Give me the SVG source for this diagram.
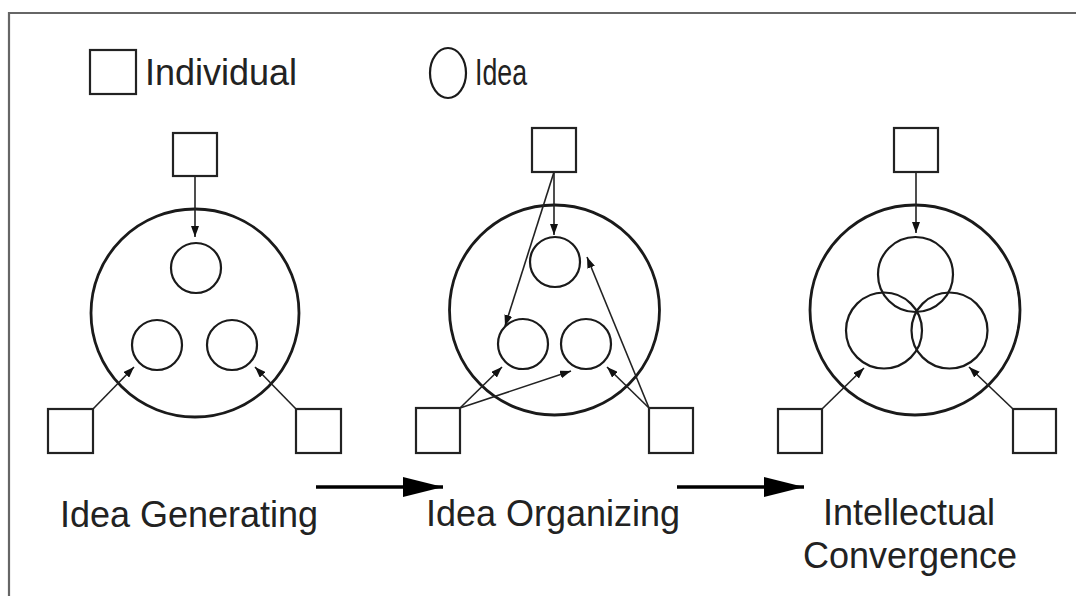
<svg xmlns="http://www.w3.org/2000/svg" width="1076" height="596" viewBox="0 0 1076 596">
<style>
.sq{fill:#fff;stroke:#222;stroke-width:2.2}
.big{fill:none;stroke:#1a1a1a;stroke-width:2.8}
.sm{fill:none;stroke:#1a1a1a;stroke-width:2.2}
.cn{stroke:#222;stroke-width:1.6;fill:none;marker-end:url(#ah)}
.flow{stroke:#000;stroke-width:3.5;fill:none;marker-end:url(#bh)}
.lbl{font-family:"Liberation Sans",Arial,sans-serif;font-size:36px;fill:#222}
</style>
<defs>
<marker id="ah" markerUnits="userSpaceOnUse" markerWidth="11" markerHeight="8" refX="11" refY="4" orient="auto">
<path d="M0,0 L11,4 L0,8 z" fill="#111"/>
</marker>
<marker id="bh" markerUnits="userSpaceOnUse" markerWidth="40" markerHeight="20" refX="40" refY="10" orient="auto">
<path d="M0,0 L40,10 L0,20 z" fill="#000"/>
</marker>
</defs>
<rect width="1076" height="596" fill="#fff"/>
<path d="M9,596 L9,13 L1076,13" fill="none" stroke="#666" stroke-width="2.2"/>

<g id="legend">
<rect class="sq" x="90" y="50" width="46" height="44"/>
<text class="lbl" x="145" y="85">Individual</text>
<ellipse class="sm" cx="448" cy="73" rx="18" ry="25"/>
<text class="lbl" x="475" y="85" textLength="52" lengthAdjust="spacingAndGlyphs">Idea</text>
</g>

<g id="panel-generating">
<circle class="big" cx="195" cy="313" r="104"/>
<circle class="sm" cx="196" cy="268" r="25"/>
<circle class="sm" cx="157" cy="345" r="25"/>
<circle class="sm" cx="232" cy="345" r="25"/>
<rect class="sq" x="173" y="133" width="44" height="43"/>
<rect class="sq" x="48" y="409" width="45" height="44"/>
<rect class="sq" x="296" y="409" width="45" height="44"/>
<text class="lbl" x="189" y="527" text-anchor="middle">Idea Generating</text>
</g>

<g id="panel-organizing">
<circle class="big" cx="554.5" cy="310" r="105"/>
<circle class="sm" cx="555" cy="262" r="25"/>
<circle class="sm" cx="523" cy="344" r="25"/>
<circle class="sm" cx="586" cy="344" r="25"/>
<rect class="sq" x="532" y="128" width="44" height="44"/>
<rect class="sq" x="416" y="408" width="44" height="45"/>
<rect class="sq" x="649" y="408" width="44" height="45"/>
<text class="lbl" x="553" y="526" text-anchor="middle">Idea Organizing</text>
</g>

<g id="panel-convergence">
<circle class="big" cx="915" cy="310" r="105"/>
<circle class="sm" cx="915.5" cy="274.5" r="37.5"/>
<circle class="sm" cx="884" cy="330.5" r="38"/>
<circle class="sm" cx="949.5" cy="330.5" r="38"/>
<rect class="sq" x="894" y="128" width="44" height="44"/>
<rect class="sq" x="778" y="409" width="44" height="44"/>
<rect class="sq" x="1013" y="409" width="43" height="44"/>
<text class="lbl" x="909" y="525" text-anchor="middle">Intellectual</text>
<text class="lbl" x="910" y="568" text-anchor="middle">Convergence</text>
</g>

<g id="connectors">
<line class="cn" x1="195" y1="176" x2="195" y2="237"/>
<line class="cn" x1="93" y1="409" x2="134" y2="367"/>
<line class="cn" x1="296" y1="409" x2="255" y2="367"/>

<line class="cn" x1="554" y1="172" x2="554" y2="235"/>
<line class="cn" x1="554" y1="172" x2="505" y2="326"/>
<line class="cn" x1="460" y1="408" x2="502" y2="367"/>
<line class="cn" x1="460" y1="408" x2="571" y2="371"/>
<line class="cn" x1="649" y1="408" x2="607" y2="367"/>
<line class="cn" x1="649" y1="408" x2="587" y2="257"/>

<line class="cn" x1="916" y1="172" x2="916" y2="233"/>
<line class="cn" x1="822" y1="409" x2="864" y2="368"/>
<line class="cn" x1="1013" y1="409" x2="969" y2="367"/>

<line class="flow" x1="316" y1="487" x2="443" y2="487"/>
<line class="flow" x1="677" y1="487" x2="804" y2="487"/>
</g>
</svg>
